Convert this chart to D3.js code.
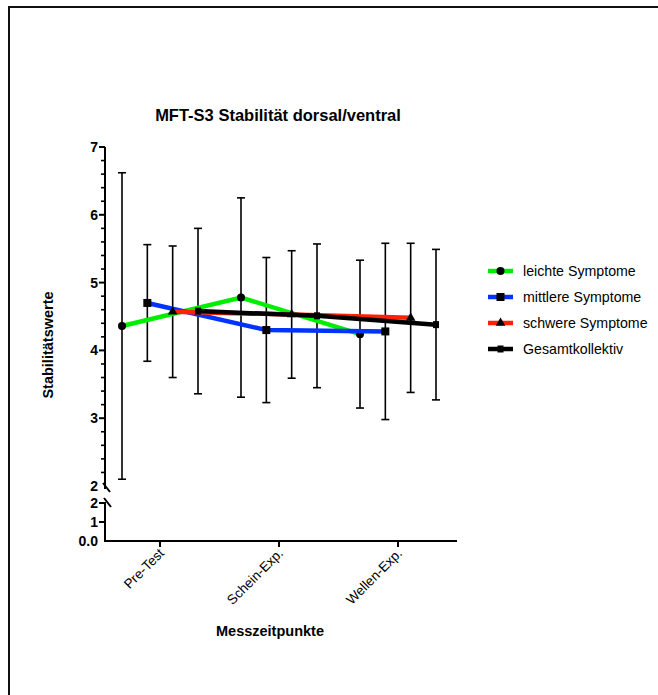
<!DOCTYPE html>
<html>
<head>
<meta charset="utf-8">
<script src="https://cdn.jsdelivr.net/npm/d3@7/dist/d3.min.js"></script>
<style>
  html, body { margin: 0; padding: 0; background: #fff; }
  text { font-family: "Liberation Sans", Arial, Helvetica, sans-serif; }
</style>
</head>
<body>
<svg id="chart" width="658" height="695"></svg>
<script>
const categories = ["Pre-Test", "Schein-Exp.", "Wellen-Exp."];
const seriesNames = ["leichte Symptome", "mittlere Symptome", "schwere Symptome", "Gesamtkollektiv"];
const seriesColors = ["#00ee00", "#0033ff", "#ff2200", "#000000"];
const seriesSymbols = ["circle", "square", "triangle", "bar"];
const leichtMean = [4.36, 4.78, 4.24];
const leichtSD   = [2.26, 1.47, 1.09];
const mittelMean = [4.70, 4.30, 4.28];
const mittelSD   = [0.86, 1.07, 1.30];
const schwerMean = [4.57, 4.53, 4.48];
const schwerSD   = [0.97, 0.94, 1.10];
const gesamtMean = [4.58, 4.51, 4.38];
const gesamtSD   = [1.22, 1.06, 1.11];
const upperTicks = [3, 4, 5, 6, 7];
const lowerTicks = [0, 1, 2];

const means = [leichtMean, mittelMean, schwerMean, gesamtMean];
const sds = [leichtSD, mittelSD, schwerSD, gesamtSD];

const svg = d3.select("#chart");

// frame
svg.append("path").attr("d", "M9,695 V7 H658").attr("fill", "none").attr("stroke", "#111").attr("stroke-width", 2);

const x = d3.scalePoint().domain(categories).range([160, 398]);
const off = d3.scalePoint().domain(seriesNames).range([-38, 38]);
const yU = d3.scaleLinear().domain([2, 7]).range([486, 147]);
const yL = d3.scaleLinear().domain([0, 2]).range([541, 503]);
const axisX0 = 105;

// title
svg.append("text").attr("x", 278).attr("y", 121).attr("text-anchor", "middle")
  .attr("font-size", 16.5).attr("font-weight", "bold").text("MFT-S3 Stabilität dorsal/ventral");

// upper y axis
const gU = svg.append("g").attr("transform", `translate(${axisX0},0)`);
gU.append("line").attr("y1", yU(7)).attr("y2", 489).attr("stroke", "#000").attr("stroke-width", 2);
const minor = d3.range(2.2, 7.0001, 0.2).filter(v => Math.abs(v - Math.round(v)) > 0.01);
gU.selectAll("line.minor").data(minor).join("line").attr("class", "minor")
  .attr("x1", -4).attr("x2", 0).attr("y1", d => yU(d)).attr("y2", d => yU(d))
  .attr("stroke", "#000").attr("stroke-width", 1.6);
gU.selectAll("line.major").data(upperTicks).join("line").attr("class", "major")
  .attr("x1", -6).attr("x2", 0).attr("y1", d => yU(d)).attr("y2", d => yU(d))
  .attr("stroke", "#000").attr("stroke-width", 2);
gU.selectAll("text.tl").data(upperTicks.concat([2])).join("text").attr("class", "tl")
  .attr("x", -7).attr("y", d => yU(d) + 5).attr("text-anchor", "end")
  .attr("font-size", 14).attr("font-weight", "bold").text(d => d);
// break marks
gU.append("line").attr("x1", -2).attr("y1", 483).attr("x2", 5).attr("y2", 492).attr("stroke", "#000").attr("stroke-width", 2);

// lower y axis
const gL = svg.append("g").attr("transform", `translate(${axisX0},0)`);
gL.append("line").attr("y1", yL(0)).attr("y2", 502).attr("stroke", "#000").attr("stroke-width", 2);
gL.selectAll("line.major").data(lowerTicks.slice(1)).join("line").attr("class", "major")
  .attr("x1", -6).attr("x2", 0).attr("y1", d => yL(d)).attr("y2", d => yL(d))
  .attr("stroke", "#000").attr("stroke-width", 2);
gL.selectAll("text.tl").data(lowerTicks).join("text").attr("class", "tl")
  .attr("x", -7).attr("y", d => yL(d) + 5).attr("text-anchor", "end")
  .attr("font-size", 14).attr("font-weight", "bold").text(d => d === 0 ? "0.0" : d);
gL.append("line").attr("x1", -1).attr("y1", 498).attr("x2", 6).attr("y2", 507).attr("stroke", "#000").attr("stroke-width", 2);

// x axis
const gX = svg.append("g");
gX.append("line").attr("x1", axisX0 - 1).attr("x2", 457).attr("y1", yL(0)).attr("y2", yL(0)).attr("stroke", "#000").attr("stroke-width", 2);
gX.selectAll("line.xt").data(categories).join("line").attr("class", "xt")
  .attr("x1", d => x(d)).attr("x2", d => x(d)).attr("y1", yL(0)).attr("y2", yL(0) + 6)
  .attr("stroke", "#000").attr("stroke-width", 2);
gX.selectAll("text.xl").data(categories).join("text").attr("class", "xl")
  .attr("text-anchor", "end").attr("font-size", 13.5)
  .attr("transform", d => `translate(${x(d) + 5},${yL(0) + 13}) rotate(-45)`)
  .text(d => d);

// axis titles
svg.append("text").attr("x", 270).attr("y", 636).attr("text-anchor", "middle")
  .attr("font-size", 14.5).attr("font-weight", "bold").text("Messzeitpunkte");
svg.append("text").attr("transform", "translate(53,345) rotate(-90)").attr("text-anchor", "middle")
  .attr("font-size", 14.5).attr("font-weight", "bold").text("Stabilitätswerte");

// error bars
const plot = svg.append("g");
seriesNames.forEach((s, si) => {
  const pts = categories.map((c, ci) => ({ x: x(c) + off(s), m: means[si][ci], sd: sds[si][ci] }));
  const eb = plot.append("g");
  eb.selectAll("line.v").data(pts).join("line").attr("class", "v")
    .attr("x1", d => d.x).attr("x2", d => d.x).attr("y1", d => yU(d.m + d.sd)).attr("y2", d => yU(d.m - d.sd))
    .attr("stroke", "#000").attr("stroke-width", 1.6);
  ["+", "-"].forEach(sg => {
    eb.selectAll("line.c" + (sg === "+" ? "p" : "m")).data(pts).join("line").attr("class", "c" + (sg === "+" ? "p" : "m"))
      .attr("x1", d => d.x - 4).attr("x2", d => d.x + 4)
      .attr("y1", d => yU(sg === "+" ? d.m + d.sd : d.m - d.sd)).attr("y2", d => yU(sg === "+" ? d.m + d.sd : d.m - d.sd))
      .attr("stroke", "#000").attr("stroke-width", 1.6);
  });
});

function drawSymbol(g, type, cx, cy) {
  if (type === "circle") g.append("circle").attr("cx", cx).attr("cy", cy).attr("r", 4).attr("fill", "#000");
  else if (type === "square") g.append("rect").attr("x", cx - 4).attr("y", cy - 4).attr("width", 8).attr("height", 8).attr("fill", "#000");
  else if (type === "triangle") g.append("path").attr("d", d3.symbol(d3.symbolTriangle, 40)()).attr("transform", `translate(${cx},${cy})`).attr("fill", "#000");
  else g.append("rect").attr("x", cx - 3).attr("y", cy - 3.5).attr("width", 6).attr("height", 7).attr("fill", "#000");
}

// lines
const line = d3.line().x(d => d.x).y(d => yU(d.m));
seriesNames.forEach((s, si) => {
  const pts = categories.map((c, ci) => ({ x: x(c) + off(s), m: means[si][ci] }));
  const g = plot.append("g");
  g.append("path").datum(pts).attr("d", line).attr("fill", "none")
    .attr("stroke", seriesColors[si]).attr("stroke-width", 4.5);
  pts.forEach(p => drawSymbol(g, seriesSymbols[si], p.x, yU(p.m)));
});

// legend
const lg = svg.append("g");
seriesNames.forEach((s, si) => {
  const yy = 271 + si * 26;
  lg.append("line").attr("x1", 488).attr("x2", 513).attr("y1", yy).attr("y2", yy)
    .attr("stroke", seriesColors[si]).attr("stroke-width", 4.5);
  drawSymbol(lg, seriesSymbols[si], 500.5, yy);
  lg.append("text").attr("x", 523).attr("y", yy + 5).attr("font-size", 14.2).text(s);
});
</script>
</body>
</html>
